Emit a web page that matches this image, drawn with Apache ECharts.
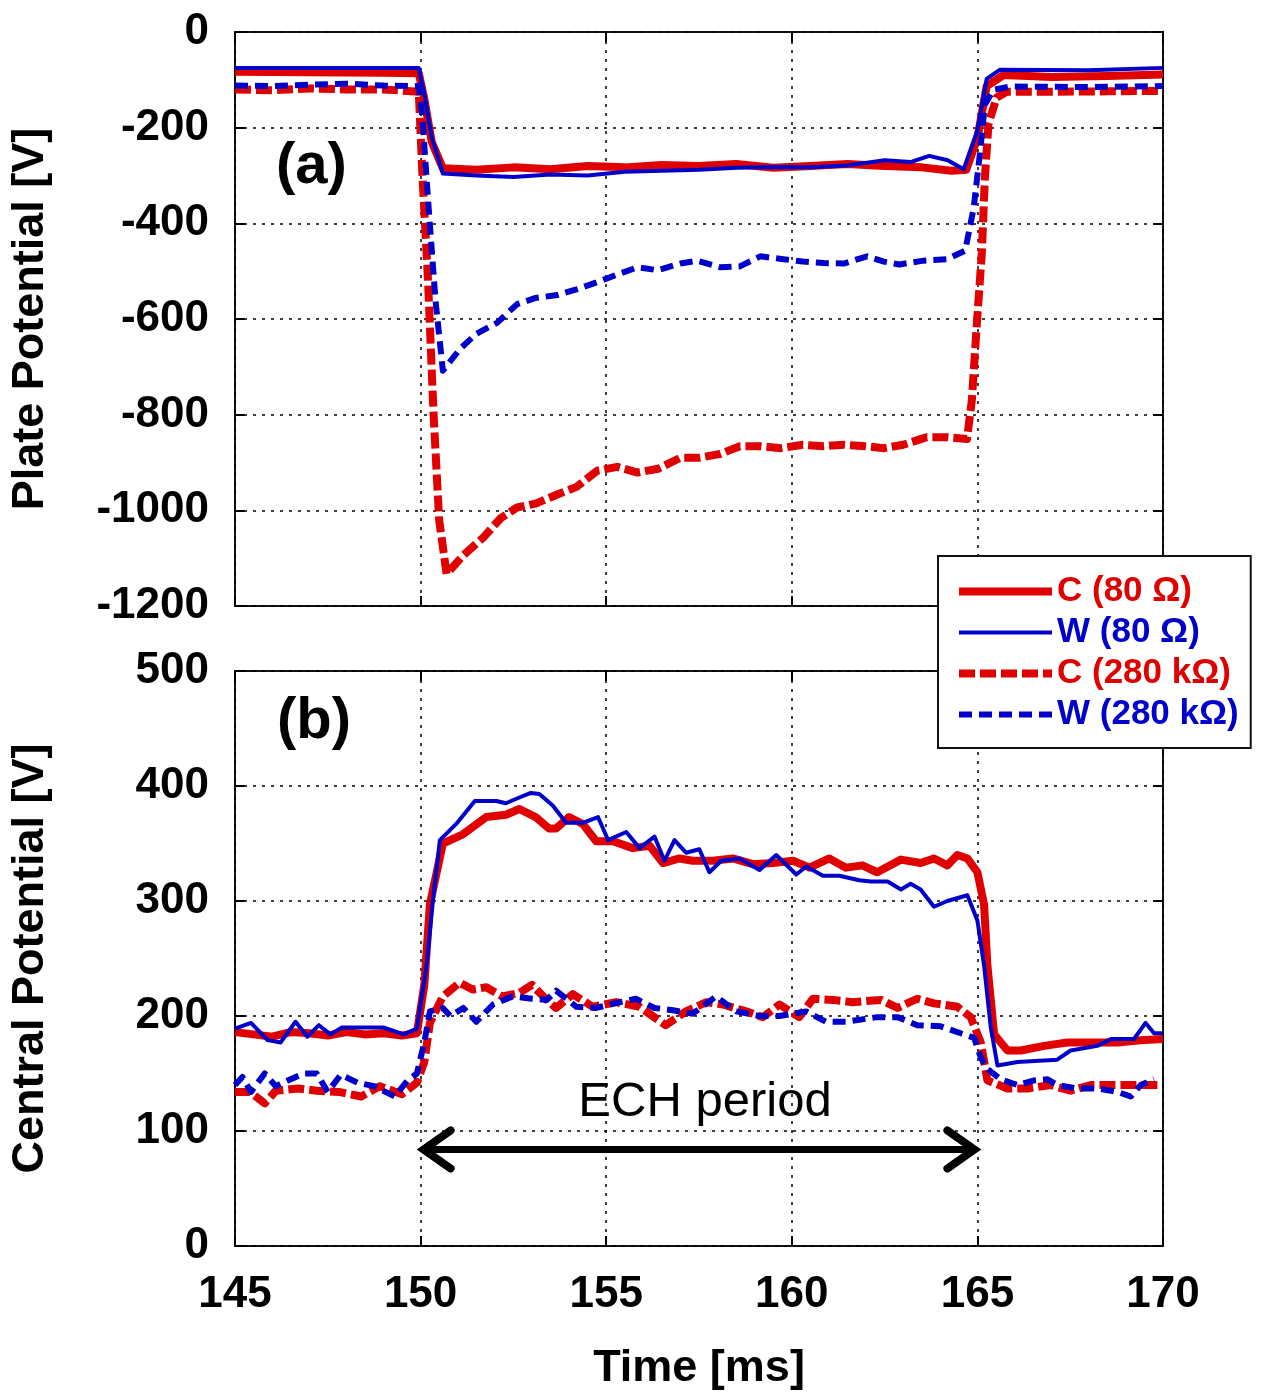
<!DOCTYPE html>
<html>
<head>
<meta charset="utf-8">
<title>Plate and central potential during ECH</title>
<script src="https://cdn.jsdelivr.net/npm/echarts@6/dist/echarts.min.js"></script>
<style>
  html, body { margin: 0; padding: 0; background: #fff; }
  #chart { width: 1262px; height: 1394px; }
</style>
</head>
<body>
<div id="chart"></div>
<script>
// Time axis ticks [ms]
const timeTicks = [145, 150, 155, 160, 165, 170];
const plateTicks = [-1200, -1000, -800, -600, -400, -200, 0];
const centralTicks = [0, 100, 200, 300, 400, 500];

// ECH heating window [ms] and the height of the annotation arrow [V]
const echWindow = [150, 165];
const echArrowLevel = 84;

// (a) Plate potential [V] vs time [ms]
const plateC80 = [
  [145, -83], [147, -84], [149, -85], [149.95, -86], [150.1, -140], [150.3, -230], [150.6, -285],
  [151.5, -288], [152.5, -283], [153.5, -287], [154.5, -280], [155.5, -283], [156.5, -278],
  [157.5, -280], [158.5, -276], [159.5, -284], [160.5, -280], [161.5, -276], [162.5, -280],
  [163.5, -283], [164.3, -290], [164.7, -288], [165.0, -222], [165.25, -113], [165.7, -90],
  [167, -94], [168.5, -92], [170, -89]
];
const plateW80 = [
  [145, -75], [149.95, -75], [150.1, -130], [150.3, -220], [150.6, -296], [151.5, -300],
  [152.5, -303], [153.5, -298], [154.5, -300], [155.5, -292], [156.5, -290], [157.5, -288],
  [158.5, -284], [159.5, -282], [160.5, -283], [161.5, -279], [162.5, -268], [163.2, -272],
  [163.7, -259], [164.2, -268], [164.63, -287], [165.0, -206], [165.25, -98], [165.6, -79],
  [168, -80], [170, -75]
];
const plateC280k = [
  [145, -120], [146, -122], [147, -118], [148, -120], [149, -120], [149.95, -125], [150.05, -300],
  [150.2, -520], [150.35, -800], [150.5, -1020], [150.7, -1133], [151.15, -1094], [151.7, -1056],
  [152.15, -1017], [152.6, -994], [153.1, -986], [153.68, -967], [154.2, -951], [154.76, -917],
  [155.3, -909], [155.84, -921], [156.4, -913], [157.0, -890], [157.5, -890], [158.08, -882],
  [158.6, -866], [159.15, -866], [159.7, -870], [160.3, -863], [160.86, -866], [161.4, -863],
  [162.0, -866], [162.48, -870], [163.0, -863], [163.64, -847], [164.18, -847], [164.72, -851],
  [164.85, -770], [164.98, -616], [165.12, -461], [165.2, -307], [165.3, -191], [165.52, -137],
  [165.79, -125], [167, -125], [168.5, -124], [170, -123]
];
const plateW280k = [
  [145, -112], [146, -113], [147, -110], [148, -108], [149, -112], [149.95, -113], [150.05, -180],
  [150.2, -350], [150.4, -560], [150.6, -708], [151.07, -662], [151.5, -631], [152.06, -608],
  [152.6, -569], [153.1, -556], [153.68, -550], [154.2, -538], [154.76, -523], [155.3, -507],
  [155.84, -492], [156.4, -498], [157.0, -484], [157.45, -478], [158.08, -492], [158.6, -490],
  [159.15, -469], [159.78, -475], [160.3, -480], [160.86, -483], [161.4, -484], [162.03, -469],
  [162.48, -480], [162.9, -486], [163.55, -478], [164.18, -475], [164.67, -457], [164.9, -368],
  [165.07, -253], [165.2, -152], [165.43, -121], [165.88, -114], [168, -115], [170, -113]
];

// (b) Central potential [V] vs time [ms]
const centralC80 = [
  [145, 186], [145.5, 184], [146, 182], [146.5, 186], [147, 185], [147.5, 183], [148, 186],
  [148.5, 184], [149, 185], [149.5, 183], [149.9, 185], [150.1, 227], [150.25, 297], [150.6, 350],
  [151.14, 358], [151.77, 373], [152.3, 375], [152.66, 380], [153.1, 373], [153.46, 363],
  [153.65, 363], [154.0, 373], [154.37, 367], [154.73, 352], [155.18, 352], [155.72, 346],
  [156.17, 348], [156.53, 333], [156.97, 337], [157.33, 335], [157.87, 335], [158.41, 337],
  [158.95, 332], [159.49, 333], [160.03, 335], [160.48, 329], [161.01, 337], [161.46, 329],
  [161.9, 331], [162.3, 325], [162.94, 336], [163.47, 333], [163.83, 337], [164.19, 331],
  [164.46, 340], [164.73, 337], [165.0, 325], [165.18, 297], [165.27, 244], [165.45, 184],
  [165.81, 170], [166.17, 170], [166.8, 174], [167.42, 177], [168.05, 177], [168.77, 177],
  [169.4, 179], [170, 180]
];
const centralW80 = [
  [145, 189], [145.43, 194], [145.88, 179], [146.23, 177], [146.63, 195], [146.95, 182],
  [147.26, 192], [147.57, 184], [147.88, 190], [148.46, 190], [149.0, 190], [149.54, 184],
  [149.9, 189], [150.16, 244], [150.34, 303], [150.52, 353], [150.96, 367], [151.46, 387],
  [152.04, 387], [152.3, 385], [152.66, 390], [152.97, 394], [153.2, 393], [153.56, 383],
  [153.92, 368], [154.37, 368], [154.78, 373], [155.05, 353], [155.54, 360], [155.9, 346],
  [156.3, 356], [156.57, 335], [156.84, 353], [157.15, 342], [157.51, 345], [157.78, 325],
  [158.1, 335], [158.6, 337], [159.13, 327], [159.58, 340], [160.12, 323], [160.39, 330],
  [160.84, 322], [161.28, 322], [161.82, 318], [162.13, 317], [162.58, 317], [162.94, 310],
  [163.2, 315], [163.47, 310], [163.83, 295], [164.19, 300], [164.73, 305], [165.0, 283],
  [165.18, 244], [165.36, 190], [165.54, 157], [166.08, 160], [167.15, 162], [167.51, 170],
  [168.23, 174], [168.6, 180], [169.22, 180], [169.53, 194], [169.76, 185], [170, 185]
];
const centralC280k = [
  [145, 134], [145.4, 134], [145.8, 124], [146.1, 135], [146.7, 137], [147.2, 135], [147.8, 134],
  [148.4, 130], [148.9, 139], [149.5, 132], [149.9, 142], [150.1, 160], [150.25, 194], [150.6, 217],
  [151.05, 229], [151.4, 223], [151.77, 225], [152.2, 217], [152.66, 220], [153.0, 227],
  [153.4, 214], [153.65, 207], [154.1, 219], [154.64, 208], [155.27, 212], [155.9, 208],
  [156.6, 192], [157.15, 204], [157.7, 212], [158.14, 210], [158.77, 204], [159.22, 199],
  [159.67, 210], [160.2, 199], [160.57, 215], [161.1, 214], [161.64, 212], [162.4, 214],
  [162.85, 207], [163.38, 215], [163.83, 211], [164.46, 208], [164.82, 199], [165.09, 177],
  [165.27, 144], [165.81, 137], [166.35, 137], [166.97, 140], [167.51, 135], [168.05, 140],
  [168.68, 140], [169.31, 140], [169.94, 140]
];
const centralW280k = [
  [145, 140], [145.2, 147], [145.43, 134], [145.8, 150], [146.1, 139], [146.5, 145], [146.85, 150],
  [147.2, 150], [147.5, 134], [147.85, 149], [148.3, 142], [148.75, 139], [149.3, 130],
  [149.65, 144], [149.9, 150], [150.1, 177], [150.25, 204], [150.6, 207], [150.8, 200],
  [151.15, 207], [151.5, 195], [151.95, 210], [152.48, 217], [153.0, 215], [153.4, 214],
  [153.65, 222], [154.2, 208], [154.73, 207], [155.36, 212], [155.8, 215], [156.3, 207],
  [156.8, 205], [157.33, 202], [157.96, 217], [158.5, 204], [159.13, 200], [159.67, 200],
  [160.39, 204], [160.92, 195], [161.46, 195], [162.3, 199], [162.85, 199], [163.38, 192],
  [164.01, 191], [164.55, 185], [164.91, 181], [165.09, 164], [165.27, 154], [165.63, 145],
  [166.08, 140], [166.53, 144], [166.89, 145], [167.15, 140], [167.69, 137], [168.23, 137],
  [168.77, 134], [169.13, 130], [169.4, 140], [169.76, 145]
];

const seriesNames = ['C (80 \u03A9)', 'W (80 \u03A9)', 'C (280 k\u03A9)', 'W (280 k\u03A9)'];

const RED = '#e00000';
const BLUE = '#0000cc';
const FONT = '"Liberation Sans", Arial, sans-serif';

const styles = [
  { color: RED,  width: 8, type: 'solid' },
  { color: BLUE, width: 4, type: 'solid' },
  { color: RED,  width: 8, type: [16, 5] },
  { color: BLUE, width: 6, type: [13, 7] }
];

const gridLine = { show: true, lineStyle: { color: '#000', width: 1.5, type: [3, 6] } };
const tickIn = { show: true, inside: true, length: 10, lineStyle: { color: '#000', width: 2 } };
const labelStyle = { color: '#000', fontFamily: FONT, fontWeight: 'bold', fontSize: 44 };
const nameStyle = { color: '#000', fontFamily: FONT, fontWeight: 'bold', fontSize: 45 };

function timeAxis(gridIndex, position, withLabels) {
  return {
    type: 'value', gridIndex, position, min: timeTicks[0], max: timeTicks[timeTicks.length - 1],
    interval: timeTicks[1] - timeTicks[0],
    axisLine: { show: false, onZero: false },
    axisTick: tickIn,
    splitLine: position === 'bottom' ? gridLine : { show: false },
    axisLabel: withLabels ? Object.assign({ margin: 27, formatter: v => String(v) }, labelStyle) : { show: false },
    name: withLabels ? 'Time [ms]' : '',
    nameLocation: 'middle', nameGap: 100, nameTextStyle: nameStyle
  };
}
function potentialAxis(gridIndex, position, ticks, title) {
  const left = position === 'left';
  return {
    type: 'value', gridIndex, position,
    min: ticks[0], max: ticks[ticks.length - 1], interval: ticks[1] - ticks[0],
    axisLine: { show: false, onZero: false },
    axisTick: tickIn,
    splitLine: left ? gridLine : { show: false },
    axisLabel: left ? Object.assign({ margin: 26, formatter: v => String(v) }, labelStyle) : { show: false },
    name: left ? title : '',
    nameLocation: 'middle', nameRotate: 90, nameGap: 182, nameTextStyle: nameStyle
  };
}

function lineSeries(name, data, idx, axisIdx) {
  const st = styles[idx];
  return {
    name, type: 'line', data, xAxisIndex: axisIdx, yAxisIndex: axisIdx,
    symbol: 'none', animation: false, z: 3 + idx,
    lineStyle: { color: st.color, width: st.width, type: st.type, join: 'round' },
    itemStyle: { color: st.color }
  };
}

const chart = echarts.init(document.getElementById('chart'), null, { renderer: 'canvas' });

chart.setOption({
  animation: false,
  backgroundColor: '#fff',
  grid: [
    { left: 234, top: 32, width: 929, height: 574, show: true, borderColor: '#111', borderWidth: 2, backgroundColor: 'transparent' },
    { left: 234, top: 671, width: 929, height: 575, show: true, borderColor: '#111', borderWidth: 2, backgroundColor: 'transparent' }
  ],
  xAxis: [
    timeAxis(0, 'bottom', false),
    timeAxis(0, 'top', false),
    timeAxis(1, 'bottom', true),
    timeAxis(1, 'top', false)
  ],
  yAxis: [
    potentialAxis(0, 'left', plateTicks, 'Plate Potential [V]'),
    potentialAxis(0, 'right', plateTicks, ''),
    potentialAxis(1, 'left', centralTicks, 'Central Potential [V]'),
    potentialAxis(1, 'right', centralTicks, '')
  ],
  legend: {
    orient: 'vertical', left: 938, top: 556,
    backgroundColor: '#fff', borderColor: '#111', borderWidth: 2,
    padding: [18, 12, 16, 17], itemGap: 6, itemWidth: 93, itemHeight: 14,
    textStyle: { fontFamily: FONT, fontWeight: 'bold', fontSize: 35 },
    data: seriesNames.map((n, i) => ({
      name: n,
      itemStyle: { opacity: 0 },
      lineStyle: { color: styles[i].color, width: styles[i].width, type: styles[i].type },
      textStyle: { color: styles[i].color, fontFamily: FONT, fontWeight: 'bold', fontSize: 35 }
    })),
    selectedMode: false,
    z: 20
  },
  graphic: [
    { type: 'text', left: 276, top: 138, z: 10,
      style: { text: '(a)', font: 'bold 58px ' + FONT, fill: '#000' } },
    { type: 'text', left: 277, top: 693, z: 10,
      style: { text: '(b)', font: 'bold 58px ' + FONT, fill: '#000' } }
  ],
  series: [
    lineSeries(seriesNames[0], plateC80, 0, 0),
    lineSeries(seriesNames[1], plateW80, 1, 0),
    lineSeries(seriesNames[2], plateC280k, 2, 0),
    lineSeries(seriesNames[3], plateW280k, 3, 0),
    lineSeries(seriesNames[0], centralC80, 0, 2),
    lineSeries(seriesNames[1], centralW80, 1, 2),
    lineSeries(seriesNames[2], centralC280k, 2, 2),
    lineSeries(seriesNames[3], centralW280k, 3, 2),
    {
      // double-headed arrow marking the ECH period, with its caption
      type: 'custom', xAxisIndex: 2, yAxisIndex: 2, z: 10, silent: true,
      data: [[echWindow[0], echWindow[1], echArrowLevel]],
      renderItem: function (params, api) {
        const s = api.coord([api.value(0), api.value(2)]);
        const e = api.coord([api.value(1), api.value(2)]);
        const head = { stroke: '#000', fill: null, lineWidth: 8, lineCap: 'round', lineJoin: 'miter' };
        return {
          type: 'group',
          children: [
            { type: 'line', shape: { x1: s[0] + 4, y1: s[1], x2: e[0] - 4, y2: e[1] },
              style: { stroke: '#000', lineWidth: 7 } },
            { type: 'polyline', shape: { points: [[s[0] + 30, s[1] - 19], [s[0] + 3, s[1]], [s[0] + 30, s[1] + 19]] },
              style: head },
            { type: 'polyline', shape: { points: [[e[0] - 30, e[1] - 19], [e[0] - 3, e[1]], [e[0] - 30, e[1] + 19]] },
              style: head },
            { type: 'text', x: (s[0] + e[0]) / 2 + 6, y: s[1] - 47,
              style: { text: 'ECH period', font: '49px ' + FONT, fill: '#000', align: 'center', verticalAlign: 'middle' } }
          ]
        };
      }
    }
  ]
});
</script>
</body>
</html>
